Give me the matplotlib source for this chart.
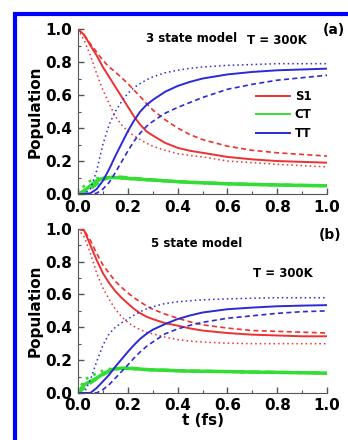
import matplotlib
matplotlib.use("Agg")
import matplotlib.pyplot as plt
from matplotlib.lines import Line2D
from matplotlib.ticker import MultipleLocator

plt.rcParams['font.family'] = 'DejaVu Sans'
plt.rcParams['font.weight'] = 'bold'

# time grid (fs)
t = [0, 0.025, 0.05, 0.075, 0.1, 0.125, 0.15, 0.175, 0.2, 0.225, 0.25, 0.275, 0.3, 0.35, 0.4, 0.45, 0.5,
     0.6, 0.7, 0.8, 0.9, 1.0]

# panel (a): 3 state model
s1_a_solid = [1.0, 0.965, 0.90, 0.84, 0.77, 0.71, 0.65, 0.59, 0.53, 0.47, 0.42, 0.38, 0.355, 0.31, 0.28, 0.262, 0.25,
              0.225, 0.21, 0.20, 0.195, 0.19]
s1_a_dash = [1.0, 0.96, 0.91, 0.86, 0.81, 0.77, 0.74, 0.705, 0.67, 0.63, 0.59, 0.55, 0.51, 0.45, 0.40, 0.36, 0.33,
             0.29, 0.265, 0.25, 0.24, 0.23]
s1_a_dot = [1.0, 0.93, 0.84, 0.73, 0.63, 0.55, 0.47, 0.42, 0.38, 0.352, 0.33, 0.308, 0.29, 0.265, 0.245, 0.234, 0.225,
            0.20, 0.19, 0.18, 0.172, 0.165]
tt_a_solid = [0, 0, 0.005, 0.03, 0.08, 0.15, 0.23, 0.305, 0.38, 0.445, 0.50, 0.54, 0.57, 0.62, 0.655, 0.68, 0.70,
              0.725, 0.74, 0.75, 0.755, 0.76]
tt_a_dash = [0, 0, 0, 0.005, 0.03, 0.07, 0.13, 0.195, 0.26, 0.32, 0.37, 0.41, 0.44, 0.49, 0.525, 0.555, 0.585,
             0.635, 0.665, 0.69, 0.705, 0.72]
tt_a_dot = [0, 0, 0.03, 0.14, 0.30, 0.42, 0.50, 0.56, 0.61, 0.645, 0.67, 0.692, 0.71, 0.735, 0.75, 0.762, 0.77,
            0.78, 0.785, 0.79, 0.79, 0.79]
ct_a_solid = [0, 0.02, 0.05, 0.08, 0.095, 0.10, 0.10, 0.098, 0.095, 0.092, 0.09, 0.087, 0.085, 0.08, 0.075, 0.071,
              0.068, 0.062, 0.058, 0.055, 0.052, 0.05]
ct_a_dash = [0, 0.01, 0.03, 0.06, 0.085, 0.10, 0.105, 0.103, 0.10, 0.096, 0.092, 0.089, 0.086, 0.08, 0.076, 0.072,
             0.069, 0.063, 0.059, 0.056, 0.053, 0.051]
ct_a_dot = [0, 0.05, 0.08, 0.095, 0.10, 0.10, 0.098, 0.095, 0.093, 0.09, 0.088, 0.085, 0.083, 0.078, 0.074, 0.07,
            0.067, 0.061, 0.057, 0.054, 0.051, 0.049]

# panel (b): 5 state model
s1_b_solid = [1.0, 0.99, 0.90, 0.81, 0.73, 0.67, 0.62, 0.58, 0.545, 0.512, 0.485, 0.465, 0.45, 0.425, 0.41, 0.393,
              0.38, 0.365, 0.355, 0.35, 0.345, 0.345]
s1_b_dash = [1.0, 0.99, 0.93, 0.85, 0.78, 0.73, 0.68, 0.643, 0.61, 0.58, 0.555, 0.53, 0.51, 0.48, 0.455, 0.433,
             0.415, 0.395, 0.38, 0.375, 0.37, 0.365]
s1_b_dot = [1.0, 0.95, 0.85, 0.73, 0.64, 0.57, 0.51, 0.465, 0.43, 0.405, 0.385, 0.37, 0.36, 0.34, 0.325, 0.316,
            0.31, 0.303, 0.30, 0.30, 0.30, 0.30]
tt_b_solid = [0, 0, 0, 0.03, 0.07, 0.11, 0.16, 0.205, 0.25, 0.292, 0.33, 0.36, 0.385, 0.42, 0.45, 0.472, 0.49,
              0.51, 0.52, 0.528, 0.532, 0.535]
tt_b_dash = [0, 0, 0, 0, 0.02, 0.05, 0.09, 0.13, 0.17, 0.212, 0.25, 0.283, 0.31, 0.36, 0.39, 0.412, 0.43,
             0.455, 0.47, 0.485, 0.495, 0.50]
tt_b_dot = [0, 0, 0.08, 0.19, 0.29, 0.36, 0.40, 0.427, 0.45, 0.474, 0.495, 0.512, 0.525, 0.545, 0.555, 0.562,
            0.567, 0.573, 0.577, 0.58, 0.58, 0.58]
ct_b_solid = [0, 0.05, 0.07, 0.09, 0.115, 0.135, 0.148, 0.15, 0.15, 0.148, 0.145, 0.142, 0.14, 0.138, 0.135, 0.133,
              0.132, 0.13, 0.127, 0.125, 0.123, 0.12]
ct_b_dash = [0, 0.03, 0.06, 0.085, 0.11, 0.13, 0.145, 0.15, 0.152, 0.15, 0.147, 0.144, 0.142, 0.139, 0.136, 0.134,
             0.133, 0.13, 0.128, 0.126, 0.124, 0.121]
ct_b_dot = [0, 0.08, 0.10, 0.12, 0.135, 0.145, 0.15, 0.15, 0.148, 0.146, 0.143, 0.141, 0.14, 0.137, 0.134, 0.132,
            0.131, 0.129, 0.126, 0.124, 0.122, 0.12]

RED = '#ee3030'
GREEN = '#33dd33'
BLUE = '#2a2ad8'

fig = plt.figure(figsize=(3.48, 4.40), dpi=100)
ax_a = fig.add_axes([0.224, 0.559, 0.716, 0.375])
ax_b = fig.add_axes([0.224, 0.107, 0.716, 0.373])


def draw(ax, s1, tt, ct):
    styles = [('-', 1.4), ((0, (3, 2)), 1.2), ((0, (1, 2)), 1.1)]
    for data, col, lwmul in [(s1, RED, 1.0), (ct, GREEN, 1.8), (tt, BLUE, 1.0)]:
        for d, (ls, lw) in zip(data, styles):
            ax.plot(t, d, color=col, ls=ls, lw=lw * lwmul)
    ax.set_xlim(0, 1.0)
    ax.set_ylim(0, 1.0)
    ax.xaxis.set_major_locator(MultipleLocator(0.2))
    ax.xaxis.set_minor_locator(MultipleLocator(0.1))
    ax.yaxis.set_major_locator(MultipleLocator(0.2))
    ax.yaxis.set_minor_locator(MultipleLocator(0.1))
    ax.tick_params(which='both', direction='in', color='#555555', labelsize=11)
    ax.tick_params(which='major', length=4, width=1, pad=4)
    ax.tick_params(which='minor', length=2, width=0.8)
    for s in ['top', 'right']:
        ax.spines[s].set_visible(False)
    for s in ['left', 'bottom']:
        ax.spines[s].set_color('#555555')
    ax.set_ylabel('Population', fontsize=11, fontweight='bold', labelpad=2)
    ax.set_xticklabels([f'{v:.1f}' for v in ax.get_xticks()], fontweight='bold')
    ax.set_yticklabels([f'{v:.1f}' for v in ax.get_yticks()], fontweight='bold')


draw(ax_a, [s1_a_solid, s1_a_dash, s1_a_dot], [tt_a_solid, tt_a_dash, tt_a_dot],
     [ct_a_solid, ct_a_dash, ct_a_dot])
draw(ax_b, [s1_b_solid, s1_b_dash, s1_b_dot], [tt_b_solid, tt_b_dash, tt_b_dot],
     [ct_b_solid, ct_b_dash, ct_b_dot])
ax_b.set_xlabel('t (fs)', fontsize=11, fontweight='bold', labelpad=0)

handles = [Line2D([], [], color=RED, lw=1.4), Line2D([], [], color=GREEN, lw=1.4),
           Line2D([], [], color=BLUE, lw=1.4)]
ax_a.legend(handles, ['S1', 'CT', 'TT'], loc='center left', bbox_to_anchor=(0.69, 0.48),
            frameon=False, handlelength=2.9, handletextpad=0.4, labelspacing=0.45,
            borderpad=0, prop={'weight': 'bold', 'size': 8.5})

fig.text(192 / 348, 1 - 39 / 440, '3 state model', ha='center', va='center', fontsize=8.5, fontweight='bold')
fig.text(277 / 348, 1 - 41 / 440, 'T = 300K', ha='center', va='center', fontsize=8.5, fontweight='bold')
fig.text(334 / 348, 1 - 30 / 440, '(a)', ha='center', va='center', fontsize=10, fontweight='bold')
fig.text(197 / 348, 1 - 243 / 440, '5 state model', ha='center', va='center', fontsize=8.5, fontweight='bold')
fig.text(283 / 348, 1 - 273 / 440, 'T = 300K', ha='center', va='center', fontsize=8.5, fontweight='bold')
fig.text(330 / 348, 1 - 235 / 440, '(b)', ha='center', va='center', fontsize=10, fontweight='bold')

# blue frame (cut at right and bottom)
fig.add_artist(Line2D([13 / 348, 1.0], [1 - 14.5 / 440, 1 - 14.5 / 440], color='#0000ff', lw=3, solid_capstyle='butt'))
fig.add_artist(Line2D([15 / 348, 15 / 348], [0, 1 - 13 / 440], color='#0000ff', lw=3, solid_capstyle='butt'))

fig.savefig('out.png', dpi=100)
